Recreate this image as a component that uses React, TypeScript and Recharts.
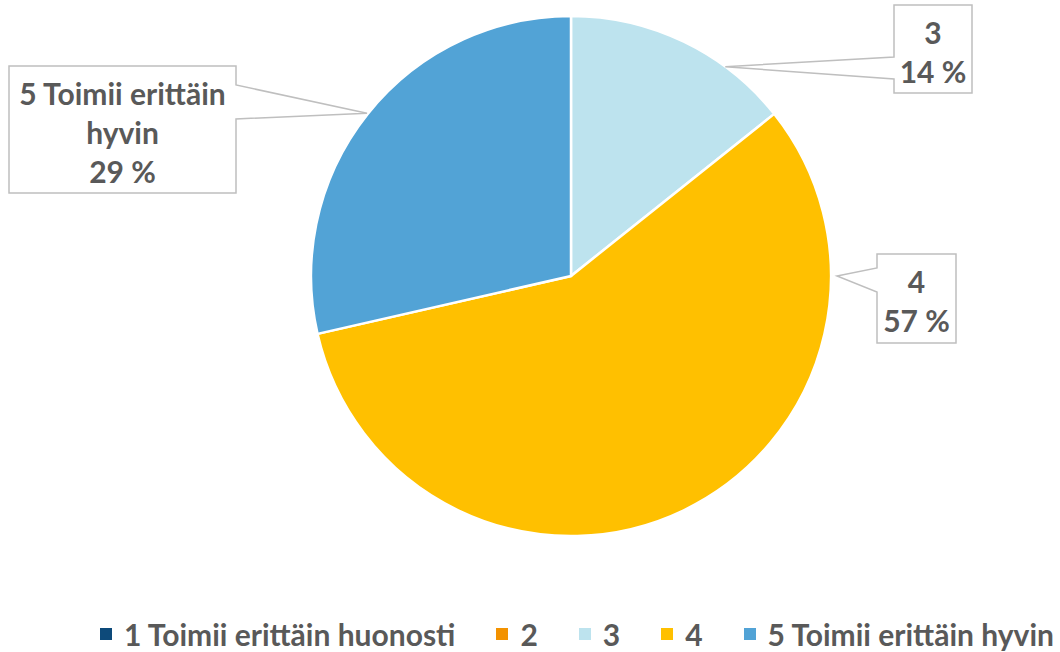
import React from "react";
import { PieChart, Pie, Cell, Legend } from "recharts";

const categories = ["1 Toimii erittäin huonosti", "2", "3", "4", "5 Toimii erittäin hyvin"];
const values = [0, 0, 1, 4, 2];
const colors = ["#0D4A7A", "#F39200", "#BDE3EE", "#FFC000", "#52A3D6"];
const labelLines: Record<string, string[]> = {
  "3": ["3"],
  "4": ["4"],
  "5 Toimii erittäin hyvin": ["5 Toimii erittäin", "hyvin"],
};

// callout layout relative to pie center (box edges, notch side, tip angle)
const callouts: Record<string, { x0: number; x1: number; y0: number; y1: number; side: "left" | "right"; n0: number; n1: number; tipAngle: number; tipExtra: number }> = {
  "3": { x0: 323, x1: 401, y0: -271, y1: -183, side: "left", n0: -219, n1: -197, tipAngle: 53.6, tipExtra: 0 },
  "4": { x0: 306, x1: 385, y0: -22, y1: 67, side: "left", n0: -8, n1: 16, tipAngle: 0, tipExtra: 6 },
  "5 Toimii erittäin hyvin": { x0: -562, x1: -335, y0: -210, y1: -83, side: "right", n0: -191, n1: -157, tipAngle: 141.4, tipExtra: 1 },
};

const data = categories.map((name, i) => ({ name, value: values[i] }));
const total = values.reduce((a, b) => a + b, 0);
const FONT = "Lato, 'Open Sans', sans-serif";
const TEXT = "#595959";
const FS = 30;

const renderLabel = (props: any) => {
  const { cx, cy, outerRadius, name, value } = props;
  const c = callouts[name];
  if (!c || !value) return null;
  const rad = (c.tipAngle * Math.PI) / 180;
  const tx = cx + (outerRadius + c.tipExtra) * Math.cos(rad);
  const ty = cy - (outerRadius + c.tipExtra) * Math.sin(rad);
  const L = cx + c.x0, R = cx + c.x1, T = cy + c.y0, B = cy + c.y1;
  const n0 = cy + c.n0, n1 = cy + c.n1;
  let d: string;
  if (c.side === "left") {
    d = `M${L},${T} L${R},${T} L${R},${B} L${L},${B} L${L},${n1} L${tx},${ty} L${L},${n0} Z`;
  } else {
    d = `M${L},${T} L${R},${T} L${R},${n0} L${tx},${ty} L${R},${n1} L${R},${B} L${L},${B} Z`;
  }
  const lines = [...(labelLines[name] || [name]), `${Math.round((value / total) * 100)} %`];
  const mx = (L + R) / 2;
  const my = (T + B) / 2;
  return (
    <g key={name}>
      <path d={d} fill="#FFFFFF" stroke="#BFBFBF" strokeWidth={1.5} />
      {lines.map((t, i) => (
        <text
          key={i}
          x={mx}
          y={my + (i - (lines.length - 1) / 2) * 39 + 2}
          textAnchor="middle"
          dominantBaseline="central"
          fill={TEXT}
          fontFamily={FONT}
          fontWeight={700}
          fontSize={FS}
        >
          {t}
        </text>
      ))}
    </g>
  );
};

const renderLegend = () => (
  <div style={{ display: "flex", justifyContent: "center", alignItems: "center", fontFamily: FONT, fontWeight: 700, fontSize: FS, color: TEXT, whiteSpace: "nowrap", lineHeight: "30px" }}>
    {categories.map((name, i) => (
      <div key={name} style={{ display: "flex", alignItems: "center", marginRight: i < categories.length - 1 ? 41 : 0 }}>
        <span style={{ display: "inline-block", width: 12, height: 12, background: colors[i], marginRight: 12 }} />
        <span>{name}</span>
      </div>
    ))}
  </div>
);

export default function App() {
  return (
    <div style={{ position: "absolute", left: 0, top: 0, width: 1060, height: 652 }}>
      <PieChart width={1060} height={652} margin={{ top: 0, right: 0, bottom: 0, left: 0 }} style={{ overflow: "visible" }}>
        <Pie
          data={data}
          dataKey="value"
          nameKey="name"
          cx={571}
          cy={276}
          outerRadius={260}
          startAngle={90}
          endAngle={-270}
          stroke="#FFFFFF"
          strokeWidth={2.5}
          label={renderLabel}
          labelLine={false}
          isAnimationActive={false}
        >
          {data.map((d, i) => (
            <Cell key={d.name} fill={colors[i]} />
          ))}
        </Pie>
        <Legend content={renderLegend} wrapperStyle={{ position: "absolute", left: 94, width: 966, top: 619, height: 30 }} />
      </PieChart>
    </div>
  );
}
